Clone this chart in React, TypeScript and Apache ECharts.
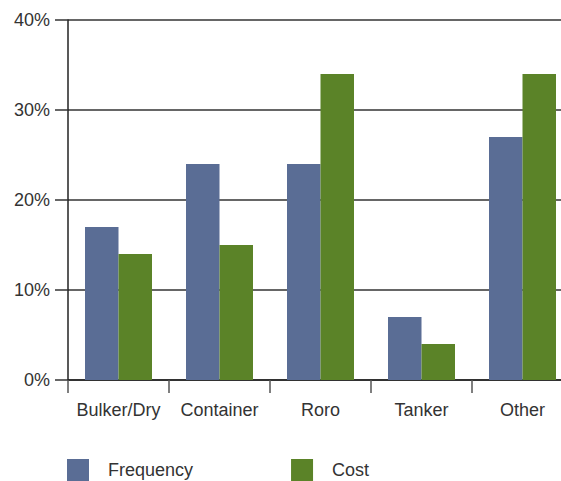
import React, { useEffect, useRef } from "react";
import * as echarts from "echarts";

const categories = ["Bulker/Dry", "Container", "Roro", "Tanker", "Other"];
const frequency = [17, 24, 24, 7, 27];
const cost = [14, 15, 34, 4, 34];
const yTicks = [0, 10, 20, 30, 40];

export default function App() {
  const ref = useRef<HTMLDivElement>(null);
  useEffect(() => {
    if (!ref.current) return;
    const chart = echarts.init(ref.current, null, { renderer: "svg" });
    const font = "'Liberation Sans', Arial, sans-serif";
    chart.setOption({
      animation: false,
      backgroundColor: "#ffffff",
      grid: { left: 68, top: 20, right: 0, bottom: 101, containLabel: false },
      legend: {
        left: 67,
        top: 459,
        padding: 0,
        itemWidth: 22,
        itemHeight: 22,
        itemGap: 98,
        icon: "rect",
        data: ["Frequency", "Cost"],
        textStyle: { fontFamily: font, fontSize: 18, color: "#333", padding: [0, 0, 0, 14] },
      },
      xAxis: {
        type: "category",
        data: categories,
        axisLine: { show: true, lineStyle: { color: "#222", width: 1.5 } },
        axisTick: { show: true, length: 13, lineStyle: { color: "#555", width: 1.5 } },
        axisLabel: { fontFamily: font, fontSize: 18, color: "#333", margin: 21, interval: 0 },
      },
      yAxis: {
        type: "value",
        min: yTicks[0],
        max: yTicks[yTicks.length - 1],
        interval: 10,
        axisLine: { show: true, lineStyle: { color: "#222", width: 1.5 } },
        axisTick: { show: true, length: 13, lineStyle: { color: "#333", width: 1.5 } },
        splitLine: { show: true, lineStyle: { color: "#333", width: 1.5 } },
        axisLabel: { fontFamily: font, fontSize: 18, color: "#333", margin: 18, formatter: "{value}%" },
      },
      series: [
        {
          name: "Frequency",
          type: "bar",
          data: frequency,
          barWidth: 33.5,
          barGap: "0%",
          itemStyle: { color: "#5a6d95" },
        },
        {
          name: "Cost",
          type: "bar",
          data: cost,
          barWidth: 33.5,
          barGap: "0%",
          itemStyle: { color: "#5b8328" },
        },
      ],
    });
    return () => chart.dispose();
  }, []);
  return (
    <div style={{ width: 561, height: 481, position: "absolute", left: 0, top: 0, overflow: "hidden" }}>
      <div ref={ref} style={{ width: 573, height: 481, position: "absolute", left: 0, top: 0 }} />
    </div>
  );
}
